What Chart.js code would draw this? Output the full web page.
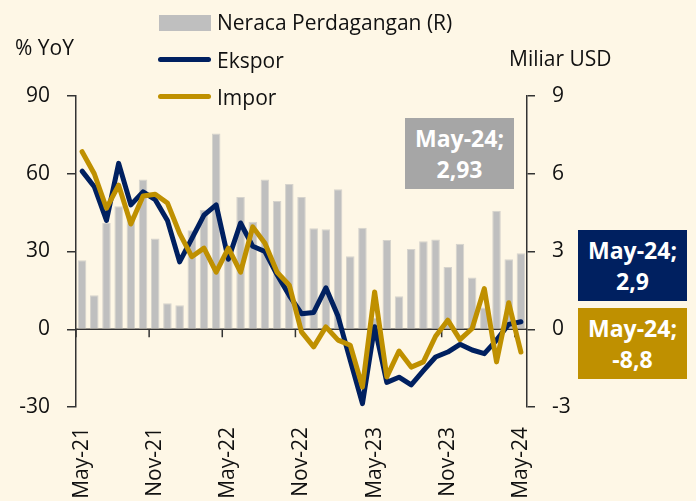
<!DOCTYPE html>
<html>
<head>
<meta charset="utf-8">
<script src="https://cdn.jsdelivr.net/npm/chart.js@4/dist/chart.umd.min.js"></script>
<style>
  body { margin: 0; background: #FEF7E6; }
  #wrap { position: relative; width: 696px; height: 501px; background: #FEF7E6; overflow: hidden;
          font-family: "Open Sans", "Noto Sans", sans-serif; color: #111; }
  canvas { position: absolute; left: 0; top: 0; }
  .txt { position: absolute; font-size: 21px; line-height: 30px; white-space: nowrap; }
  .sw { position: absolute; }
  .box { position: absolute; width: 109px; height: 71px; color: #fff; font-weight: 700;
         font-size: 23px; line-height: 31px; text-align: center; display: flex;
         flex-direction: column; justify-content: center; }
</style>
</head>
<body>
<div id="wrap">
  <canvas id="chart" width="696" height="501"></canvas>

  <div class="txt" style="left:15px; top:32px;">% YoY</div>
  <div class="txt" style="left:509px; top:43px;">Miliar USD</div>

  <div class="sw" style="left:159px; top:15px; width:52px; height:16px; background:#BFBFBF;"></div>
  <div class="txt" style="left:217px; top:7px;">Neraca Perdagangan (R)</div>
  <div class="sw" style="left:158px; top:57px; width:53px; height:5px; background:#002060; border-radius:3px;"></div>
  <div class="txt" style="left:217px; top:45px;">Ekspor</div>
  <div class="sw" style="left:158px; top:94px; width:53px; height:5px; background:#BF9000; border-radius:3px;"></div>
  <div class="txt" style="left:217px; top:82px;">Impor</div>

  <div class="box" style="left:405px; top:118px; background:#A6A6A6;"><div>May-24;</div><div>2,93</div></div>
  <div class="box" style="left:578px; top:230px; background:#002060;"><div>May-24;</div><div>2,9</div></div>
  <div class="box" style="left:578px; top:308px; background:#BF9000;"><div>May-24;</div><div>-8,8</div></div>
</div>
<script>
// Monthly data, May-21 to May-24
const months = [
  "May-21","Jun-21","Jul-21","Aug-21","Sep-21","Oct-21","Nov-21","Dec-21",
  "Jan-22","Feb-22","Mar-22","Apr-22","May-22","Jun-22","Jul-22","Aug-22","Sep-22","Oct-22","Nov-22","Dec-22",
  "Jan-23","Feb-23","Mar-23","Apr-23","May-23","Jun-23","Jul-23","Aug-23","Sep-23","Oct-23","Nov-23","Dec-23",
  "Jan-24","Feb-24","Mar-24","Apr-24","May-24"
];
// Ekspor, % YoY (left axis)
const ekspor = [61, 55, 42, 64, 48, 53, 50, 42, 26, 35, 44, 48, 27, 41, 32, 30, 21, 13, 6, 6.5,
  16, 5, -12, -28.7, 1, -20.5, -18.5, -21.5, -16, -10.7, -8.8, -5.8, -8, -9.4, -4.2, 1.9, 2.9];
// Impor, % YoY (left axis)
const impor = [68.5, 60, 46.7, 55.6, 40.6, 51.4, 52.1, 48.7, 37, 28, 31.3, 22, 31.3, 22, 39.5, 33.2, 22, 17, -1, -6.8,
  0.9, -4.2, -6.2, -22.3, 14.4, -18.4, -8.4, -14.6, -12.6, -2.7, 3.5, -4, 0.3, 15.7, -12.6, 10.2, -8.8];
// Neraca Perdagangan, miliar USD (right axis)
const neraca = [2.66, 1.31, 4.1, 4.75, 4.4, 5.78, 3.5, 1.0, 0.93, 3.82, 4.6, 7.55, 2.8, 5.1, 4.15, 5.78, 4.95, 5.6, 5.1, 3.9,
  3.86, 5.4, 2.82, 3.92, 0.44, 3.44, 1.27, 3.1, 3.4, 3.46, 2.4, 3.3, 2.0, 0.84, 4.57, 2.7, 2.93];

const axisColor = "#333";
const tickFont = { family: "'Open Sans', 'Noto Sans', sans-serif", size: 21 };

// zero line with tick marks every 6 months
const zeroAxis = {
  id: "zeroAxis",
  beforeDatasetsDraw(chart) {
    const { ctx, chartArea, scales } = chart;
    const y0 = scales.y.getPixelForValue(0);
    const step = scales.x.getPixelForValue(1) - scales.x.getPixelForValue(0);
    ctx.save();
    ctx.strokeStyle = axisColor;
    ctx.lineWidth = 1.5;
    ctx.beginPath();
    ctx.moveTo(chartArea.left, y0);
    ctx.lineTo(chartArea.right, y0);
    for (let i = 0; i < months.length; i += 6) {
      const x = scales.x.getPixelForValue(i) - step / 2;
      ctx.moveTo(x, y0);
      ctx.lineTo(x, y0 + 8);
    }
    ctx.stroke();
    ctx.restore();
  }
};

new Chart(document.getElementById("chart"), {
  type: "bar",
  data: {
    labels: months,
    datasets: [
      { type: "line", label: "Impor", data: impor, borderColor: "#BF9000", borderWidth: 5,
        pointRadius: 0, tension: 0, yAxisID: "y", order: 0, borderJoinStyle: "round", borderCapStyle: "round" },
      { type: "line", label: "Ekspor", data: ekspor, borderColor: "#002060", borderWidth: 5,
        pointRadius: 0, tension: 0, yAxisID: "y", order: 1, borderJoinStyle: "round", borderCapStyle: "round" },
      { type: "bar", label: "Neraca Perdagangan (R)", data: neraca, backgroundColor: "#BFBFBF",
        borderColor: "#D6D3CC", borderWidth: 1, yAxisID: "y1", order: 2,
        barPercentage: 0.7, categoryPercentage: 1 }
    ]
  },
  options: {
    responsive: false,
    animation: false,
    layout: { padding: { top: 96, left: 0, right: 0, bottom: 0 } },
    plugins: { legend: { display: false }, tooltip: { enabled: false } },
    scales: {
      x: {
        offset: true,
        grid: { display: false, drawTicks: false },
        border: { display: false },
        ticks: {
          autoSkip: false, maxRotation: 90, minRotation: 90, padding: 20,
          font: tickFont, color: "#111",
          callback: (v, i) => (i % 6 === 0 ? months[i] : "")
        },
        afterFit: s => { s.height = 94; }
      },
      y: {
        position: "left", min: -30, max: 90,
        ticks: { stepSize: 30, padding: 17, font: tickFont, color: "#111" },
        grid: { drawOnChartArea: false, tickLength: 9, color: axisColor, lineWidth: 1.5 },
        border: { color: axisColor, width: 1.5 },
        afterFit: s => { s.width = 76; }
      },
      y1: {
        position: "right", min: -3, max: 9,
        ticks: { stepSize: 3, padding: 17, font: tickFont, color: "#111" },
        grid: { drawOnChartArea: false, tickLength: 8, color: axisColor, lineWidth: 1.5 },
        border: { color: axisColor, width: 1.5 },
        afterFit: s => { s.width = 169; }
      }
    }
  },
  plugins: [zeroAxis]
});
</script>
</body>
</html>
